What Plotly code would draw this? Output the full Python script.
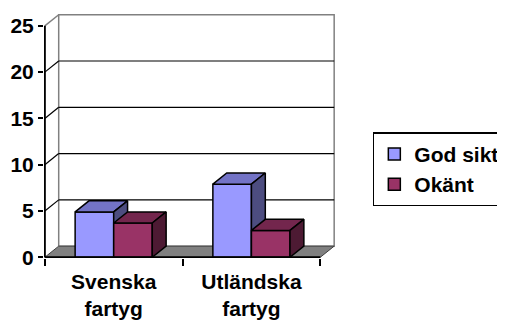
import plotly.graph_objects as go

# data
categories = ["Svenska<br>fartyg", "Utländska<br>fartyg"]
series_names = ["God sikt", "Okänt"]
god_sikt = [4.9, 7.9]
okant = [3.7, 2.9]
y_ticks = [0, 5, 10, 15, 20, 25]

# colours: front, top, side
colors = {
    "God sikt": ("#9999FF", "#7373C6", "#4D4D80"),
    "Okänt": ("#993366", "#73264D", "#4D1A33"),
}

DX, DY = 0.1007, 1.2      # depth offset of the 3d box (data units)
W = 0.28                  # bar width
x_pos = list(range(len(categories)))
ymax = y_ticks[-1]
x_left, x_right = -0.5, len(categories) - 0.5

fig = go.Figure()


def poly(xs, ys, fill, line="black", width=1):
    fig.add_trace(go.Scatter(
        x=xs + [xs[0]], y=ys + [ys[0]], mode="lines", fill="toself",
        fillcolor=fill, line=dict(color=line, width=width),
        showlegend=False, hoverinfo="skip"))


def seg(xs, ys, color="black", width=1):
    fig.add_trace(go.Scatter(
        x=xs, y=ys, mode="lines", line=dict(color=color, width=width),
        showlegend=False, hoverinfo="skip"))


# back wall
poly([x_left + DX, x_right + DX, x_right + DX, x_left + DX],
     [DY, DY, ymax + DY, ymax + DY], "white", line="#808080", width=1.5)
# gridlines on the back wall and on the side
for v in y_ticks[1:-1]:
    seg([x_left + DX, x_right + DX], [v + DY, v + DY], "black", 1.2)
for v in y_ticks[1:-1]:
    seg([x_left, x_left + DX], [v, v + DY], "black", 1.2)
seg([x_left, x_left + DX], [ymax, ymax + DY], "#808080", 1.5)

# floor
poly([x_left, x_right, x_right + DX, x_left + DX], [0, 0, DY, DY], "#808080",
     line="#404040", width=1)

# bars
for i, c in enumerate(x_pos):
    for name, vals, x0 in (("God sikt", god_sikt, c - W), ("Okänt", okant, c)):
        v = vals[i]
        front, top, side = colors[name]
        x1 = x0 + W
        poly([x0, x1, x1, x0], [0, 0, v, v], front, width=1.5)
        poly([x0, x1, x1 + DX, x0 + DX], [v, v, v + DY, v + DY], top, width=1.5)
        poly([x1, x1 + DX, x1 + DX, x1], [0, DY, v + DY, v], side, width=1.5)

# front axis lines
seg([x_left, x_left], [0, ymax], "black", 2)
seg([x_left, x_right], [0, 0], "black", 2)

# legend entries
for name in series_names:
    fig.add_trace(go.Bar(x=[None], y=[None], name="<b>" + name + "</b>",
                         marker=dict(color=colors[name][0],
                                     line=dict(color="black", width=1.5))))

fig.update_layout(
    width=505, height=323,
    margin=dict(l=36, r=178, t=6, b=73, autoexpand=False),
    paper_bgcolor="white", plot_bgcolor="white",
    font=dict(family="Liberation Sans, Arial, sans-serif", size=21,
              color="black"),
    showlegend=True,
    legend=dict(x=1.13, y=0.515, xanchor="left", yanchor="top",
                bordercolor="black", borderwidth=1.5, bgcolor="white",
                font=dict(size=21), itemwidth=30, tracegroupgap=0),
    xaxis=dict(range=[x_left - 0.006, x_right + DX + 0.006],
               tickvals=x_pos, ticktext=["<b>" + t + "</b>" for t in categories],
               ticks="", ticklabelstandoff=9,
               showgrid=False, zeroline=False, showline=False,
               minor=dict(tickvals=[x_left, 0.5, x_right], ticks="outside",
                          ticklen=7, tickcolor="black", tickwidth=2,
                          showgrid=False)),
    yaxis=dict(range=[-0.08, ymax + DY + 0.08], tickvals=y_ticks,
               ticktext=["<b>%d</b>" % t for t in y_ticks],
               ticks="outside", ticklen=5, tickcolor="black", tickwidth=2,
               showgrid=False, zeroline=False, showline=False),
)

fig.write_html("out.html")
